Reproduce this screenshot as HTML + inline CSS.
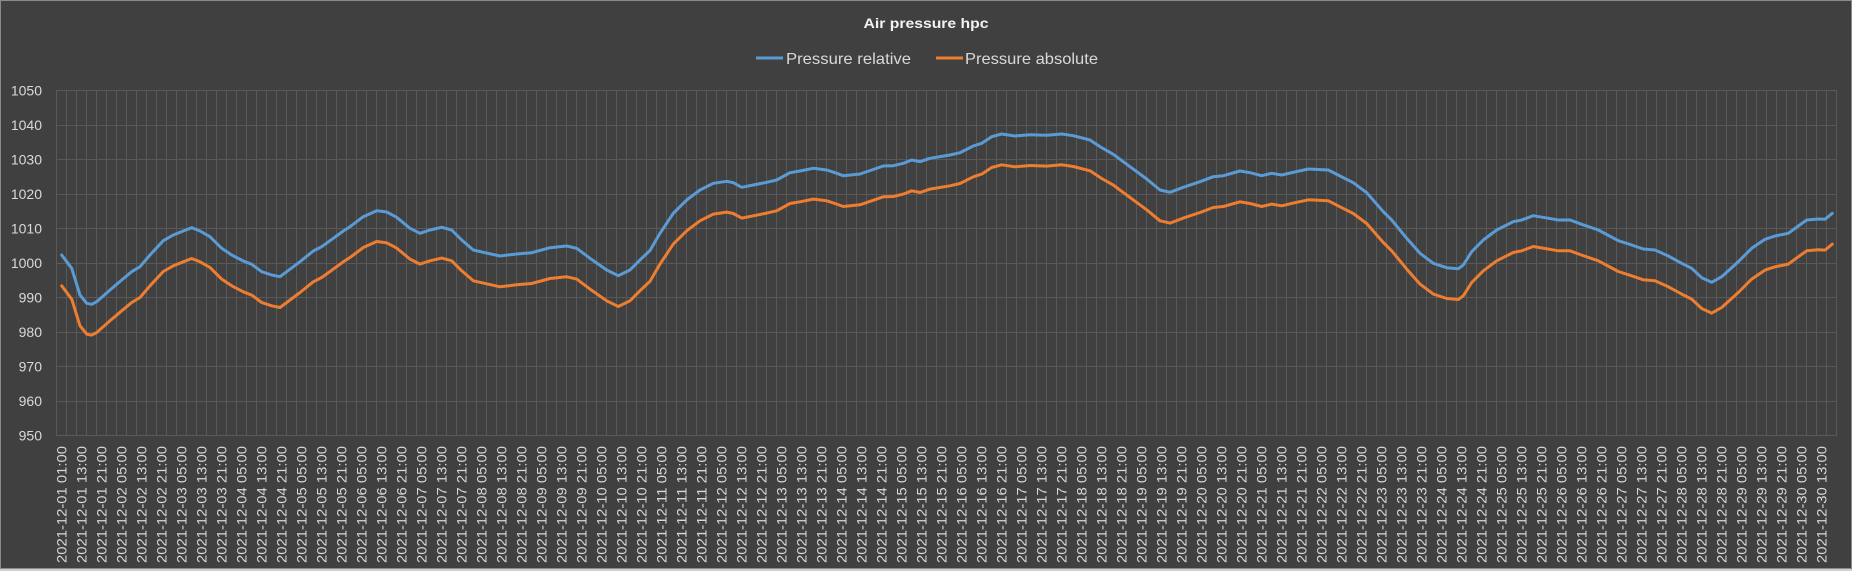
<!DOCTYPE html>
<html>
<head>
<meta charset="utf-8">
<style>
html,body{margin:0;padding:0;background:#d0d0d0;}
body{width:1852px;height:571px;overflow:hidden;}
svg{display:block;}
.yl{font-family:"Liberation Sans",sans-serif;font-size:14px;fill:#d9d9d9;}
.xl{font-family:"Liberation Sans",sans-serif;font-size:14px;fill:#d9d9d9;}
</style>
</head>
<body>
<svg width="1852" height="571" viewBox="0 0 1852 571" xmlns="http://www.w3.org/2000/svg">
<defs>
<pattern id="vg" x="56" y="0" width="10" height="571" patternUnits="userSpaceOnUse">
<rect x="0" y="0" width="1" height="571" fill="#595959"/>
</pattern>
</defs>
<rect x="0" y="0" width="1852" height="571" fill="#d0d0d0"/>
<rect x="0.5" y="0.5" width="1851" height="568" fill="#404040" stroke="#8a8a8a" stroke-width="1"/>

<!-- vertical gridlines -->
<rect x="56" y="90" width="1781" height="346" fill="url(#vg)"/>
<!-- horizontal gridlines -->
<g stroke="#595959" stroke-width="1">
<line x1="56" x2="1837" y1="90.5" y2="90.5"/>
<line x1="56" x2="1837" y1="125.5" y2="125.5"/>
<line x1="56" x2="1837" y1="159.5" y2="159.5"/>
<line x1="56" x2="1837" y1="194.5" y2="194.5"/>
<line x1="56" x2="1837" y1="228.5" y2="228.5"/>
<line x1="56" x2="1837" y1="263.5" y2="263.5"/>
<line x1="56" x2="1837" y1="297.5" y2="297.5"/>
<line x1="56" x2="1837" y1="332.5" y2="332.5"/>
<line x1="56" x2="1837" y1="366.5" y2="366.5"/>
<line x1="56" x2="1837" y1="401.5" y2="401.5"/>
<line x1="56" x2="1837" y1="435.5" y2="435.5"/>
</g>

<!-- y labels -->
<g class="yl" text-anchor="end">
<text x="42" y="95.5">1050</text>
<text x="42" y="130">1040</text>
<text x="42" y="164.5">1030</text>
<text x="42" y="199">1020</text>
<text x="42" y="233.5">1010</text>
<text x="42" y="268">1000</text>
<text x="42" y="302.5">990</text>
<text x="42" y="337">980</text>
<text x="42" y="371.5">970</text>
<text x="42" y="406">960</text>
<text x="42" y="440.5">950</text>
</g>

<!-- title -->
<text x="926" y="28" text-anchor="middle" font-family="'Liberation Sans',sans-serif" font-weight="bold" font-size="14" fill="#f2f2f2" textLength="125" lengthAdjust="spacingAndGlyphs">Air pressure hpc</text>

<!-- legend -->
<line x1="756" x2="783" y1="58" y2="58" stroke="#5b9bd5" stroke-width="3"/>
<text x="786" y="64" font-family="'Liberation Sans',sans-serif" font-size="16" fill="#d9d9d9" textLength="125" lengthAdjust="spacingAndGlyphs">Pressure relative</text>
<line x1="936" x2="963" y1="58" y2="58" stroke="#ed7d31" stroke-width="3"/>
<text x="965" y="64" font-family="'Liberation Sans',sans-serif" font-size="16" fill="#d9d9d9" textLength="133" lengthAdjust="spacingAndGlyphs">Pressure absolute</text>

<!-- series -->
<polyline id="blue" fill="none" stroke="#5b9bd5" stroke-width="3" stroke-linejoin="round" stroke-linecap="round" points="61.7,255 71.7,268.3 80,295 86.7,303.3 91.7,304.3 96.7,301.7 110,290 121.7,280 131.7,271.7 140,266.7 150,255 163.3,240.7 173.3,235 183.3,231 191.7,227.7 200,231 210,236.7 221.7,248.3 231.7,255 243.3,261 251.7,264.3 261.7,271.7 271.7,275 280,276.7 286.7,271.7 300,261.7 313.3,251 321.7,246.7 333.3,238.3 343.3,231 350,226.7 363.3,216.7 376.7,210.7 386.7,212 396.7,217.3 410,228.3 420,233.3 430,230 441.7,227.3 451.7,230 461.7,240 473.3,250 483.3,252.3 500,256 516.7,254 531.7,252.7 550,247.7 566.7,246 576.7,248.3 590,258.3 606.7,270 618.3,275.7 630,270 641.7,258.3 650,250.5 660,233.3 673.3,213.3 686.7,200 700,190 713.3,183.3 726.7,181.3 733.3,182.7 741.7,187.3 753.3,185 766.7,182.3 776.7,180 790,172.7 800,171 813.3,168.3 826.7,170 835,172.7 843.3,175.7 860,174 871.7,170 883.3,166 893.3,165.7 903.3,163.3 911.7,160 920,161.7 930,158.3 950,155 960,152.7 973.3,146 981.7,143.3 991.7,136.7 1001.7,134 1015,136 1030,134.7 1046.7,135.3 1061.7,134 1073.3,135.7 1090,140 1101.7,147.7 1113.3,154.3 1130,166.7 1146.7,179 1160,190 1170,192.3 1183.3,187.3 1200,181.7 1213.3,176.7 1223.3,175.7 1240,171 1250,172.7 1261.7,175.7 1271.7,173.3 1281.7,175 1293.3,172.3 1308.3,169 1328.3,170 1340,176 1353.3,182.7 1366.7,192.7 1383.3,211.7 1391.7,220 1406.7,238.3 1420,253.3 1433.3,263.3 1446.7,267.7 1458.3,268.7 1463.3,265 1471.7,251.7 1483.3,240 1496.7,230 1513.3,221.7 1521.7,220 1533.3,215.7 1545,217.7 1558.3,220 1570,220 1581.7,224.3 1598.3,230 1618.3,240.7 1631.7,245 1643.3,249 1655,250 1668.3,256 1681.7,263.3 1691.7,268.3 1701.7,277.7 1711.7,282.3 1721.7,276.7 1738.3,261.7 1751.7,248.3 1765,239.3 1775,236 1788.3,233.3 1798.3,226 1806.7,220 1818.3,219 1825,219.3 1832.3,213.3"/>
<polyline transform="translate(0,30.8)" fill="none" stroke="#ed7d31" stroke-width="3" stroke-linejoin="round" stroke-linecap="round" points="61.7,255 71.7,268.3 80,295 86.7,303.3 91.7,304.3 96.7,301.7 110,290 121.7,280 131.7,271.7 140,266.7 150,255 163.3,240.7 173.3,235 183.3,231 191.7,227.7 200,231 210,236.7 221.7,248.3 231.7,255 243.3,261 251.7,264.3 261.7,271.7 271.7,275 280,276.7 286.7,271.7 300,261.7 313.3,251 321.7,246.7 333.3,238.3 343.3,231 350,226.7 363.3,216.7 376.7,210.7 386.7,212 396.7,217.3 410,228.3 420,233.3 430,230 441.7,227.3 451.7,230 461.7,240 473.3,250 483.3,252.3 500,256 516.7,254 531.7,252.7 550,247.7 566.7,246 576.7,248.3 590,258.3 606.7,270 618.3,275.7 630,270 641.7,258.3 650,250.5 660,233.3 673.3,213.3 686.7,200 700,190 713.3,183.3 726.7,181.3 733.3,182.7 741.7,187.3 753.3,185 766.7,182.3 776.7,180 790,172.7 800,171 813.3,168.3 826.7,170 835,172.7 843.3,175.7 860,174 871.7,170 883.3,166 893.3,165.7 903.3,163.3 911.7,160 920,161.7 930,158.3 950,155 960,152.7 973.3,146 981.7,143.3 991.7,136.7 1001.7,134 1015,136 1030,134.7 1046.7,135.3 1061.7,134 1073.3,135.7 1090,140 1101.7,147.7 1113.3,154.3 1130,166.7 1146.7,179 1160,190 1170,192.3 1183.3,187.3 1200,181.7 1213.3,176.7 1223.3,175.7 1240,171 1250,172.7 1261.7,175.7 1271.7,173.3 1281.7,175 1293.3,172.3 1308.3,169 1328.3,170 1340,176 1353.3,182.7 1366.7,192.7 1383.3,211.7 1391.7,220 1406.7,238.3 1420,253.3 1433.3,263.3 1446.7,267.7 1458.3,268.7 1463.3,265 1471.7,251.7 1483.3,240 1496.7,230 1513.3,221.7 1521.7,220 1533.3,215.7 1545,217.7 1558.3,220 1570,220 1581.7,224.3 1598.3,230 1618.3,240.7 1631.7,245 1643.3,249 1655,250 1668.3,256 1681.7,263.3 1691.7,268.3 1701.7,277.7 1711.7,282.3 1721.7,276.7 1738.3,261.7 1751.7,248.3 1765,239.3 1775,236 1788.3,233.3 1798.3,226 1806.7,220 1818.3,219 1825,219.3 1832.3,213.3"/>

<!-- x labels -->
<g class="xl" text-anchor="end" dominant-baseline="central">
<text transform="translate(61.5,446) rotate(-90)" textLength="117" lengthAdjust="spacingAndGlyphs">2021-12-01 01:00</text>
<text transform="translate(81.5,446) rotate(-90)" textLength="117" lengthAdjust="spacingAndGlyphs">2021-12-01 13:00</text>
<text transform="translate(101.5,446) rotate(-90)" textLength="117" lengthAdjust="spacingAndGlyphs">2021-12-01 21:00</text>
<text transform="translate(121.5,446) rotate(-90)" textLength="117" lengthAdjust="spacingAndGlyphs">2021-12-02 05:00</text>
<text transform="translate(141.5,446) rotate(-90)" textLength="117" lengthAdjust="spacingAndGlyphs">2021-12-02 13:00</text>
<text transform="translate(161.5,446) rotate(-90)" textLength="117" lengthAdjust="spacingAndGlyphs">2021-12-02 21:00</text>
<text transform="translate(181.5,446) rotate(-90)" textLength="117" lengthAdjust="spacingAndGlyphs">2021-12-03 05:00</text>
<text transform="translate(201.5,446) rotate(-90)" textLength="117" lengthAdjust="spacingAndGlyphs">2021-12-03 13:00</text>
<text transform="translate(221.5,446) rotate(-90)" textLength="117" lengthAdjust="spacingAndGlyphs">2021-12-03 21:00</text>
<text transform="translate(241.5,446) rotate(-90)" textLength="117" lengthAdjust="spacingAndGlyphs">2021-12-04 05:00</text>
<text transform="translate(261.5,446) rotate(-90)" textLength="117" lengthAdjust="spacingAndGlyphs">2021-12-04 13:00</text>
<text transform="translate(281.5,446) rotate(-90)" textLength="117" lengthAdjust="spacingAndGlyphs">2021-12-04 21:00</text>
<text transform="translate(301.5,446) rotate(-90)" textLength="117" lengthAdjust="spacingAndGlyphs">2021-12-05 05:00</text>
<text transform="translate(321.5,446) rotate(-90)" textLength="117" lengthAdjust="spacingAndGlyphs">2021-12-05 13:00</text>
<text transform="translate(341.5,446) rotate(-90)" textLength="117" lengthAdjust="spacingAndGlyphs">2021-12-05 21:00</text>
<text transform="translate(361.5,446) rotate(-90)" textLength="117" lengthAdjust="spacingAndGlyphs">2021-12-06 05:00</text>
<text transform="translate(381.5,446) rotate(-90)" textLength="117" lengthAdjust="spacingAndGlyphs">2021-12-06 13:00</text>
<text transform="translate(401.5,446) rotate(-90)" textLength="117" lengthAdjust="spacingAndGlyphs">2021-12-06 21:00</text>
<text transform="translate(421.5,446) rotate(-90)" textLength="117" lengthAdjust="spacingAndGlyphs">2021-12-07 05:00</text>
<text transform="translate(441.5,446) rotate(-90)" textLength="117" lengthAdjust="spacingAndGlyphs">2021-12-07 13:00</text>
<text transform="translate(461.5,446) rotate(-90)" textLength="117" lengthAdjust="spacingAndGlyphs">2021-12-07 21:00</text>
<text transform="translate(481.5,446) rotate(-90)" textLength="117" lengthAdjust="spacingAndGlyphs">2021-12-08 05:00</text>
<text transform="translate(501.5,446) rotate(-90)" textLength="117" lengthAdjust="spacingAndGlyphs">2021-12-08 13:00</text>
<text transform="translate(521.5,446) rotate(-90)" textLength="117" lengthAdjust="spacingAndGlyphs">2021-12-08 21:00</text>
<text transform="translate(541.5,446) rotate(-90)" textLength="117" lengthAdjust="spacingAndGlyphs">2021-12-09 05:00</text>
<text transform="translate(561.5,446) rotate(-90)" textLength="117" lengthAdjust="spacingAndGlyphs">2021-12-09 13:00</text>
<text transform="translate(581.5,446) rotate(-90)" textLength="117" lengthAdjust="spacingAndGlyphs">2021-12-09 21:00</text>
<text transform="translate(601.5,446) rotate(-90)" textLength="117" lengthAdjust="spacingAndGlyphs">2021-12-10 05:00</text>
<text transform="translate(621.5,446) rotate(-90)" textLength="117" lengthAdjust="spacingAndGlyphs">2021-12-10 13:00</text>
<text transform="translate(641.5,446) rotate(-90)" textLength="117" lengthAdjust="spacingAndGlyphs">2021-12-10 21:00</text>
<text transform="translate(661.5,446) rotate(-90)" textLength="117" lengthAdjust="spacingAndGlyphs">2021-12-11 05:00</text>
<text transform="translate(681.5,446) rotate(-90)" textLength="117" lengthAdjust="spacingAndGlyphs">2021-12-11 13:00</text>
<text transform="translate(701.5,446) rotate(-90)" textLength="117" lengthAdjust="spacingAndGlyphs">2021-12-11 21:00</text>
<text transform="translate(721.5,446) rotate(-90)" textLength="117" lengthAdjust="spacingAndGlyphs">2021-12-12 05:00</text>
<text transform="translate(741.5,446) rotate(-90)" textLength="117" lengthAdjust="spacingAndGlyphs">2021-12-12 13:00</text>
<text transform="translate(761.5,446) rotate(-90)" textLength="117" lengthAdjust="spacingAndGlyphs">2021-12-12 21:00</text>
<text transform="translate(781.5,446) rotate(-90)" textLength="117" lengthAdjust="spacingAndGlyphs">2021-12-13 05:00</text>
<text transform="translate(801.5,446) rotate(-90)" textLength="117" lengthAdjust="spacingAndGlyphs">2021-12-13 13:00</text>
<text transform="translate(821.5,446) rotate(-90)" textLength="117" lengthAdjust="spacingAndGlyphs">2021-12-13 21:00</text>
<text transform="translate(841.5,446) rotate(-90)" textLength="117" lengthAdjust="spacingAndGlyphs">2021-12-14 05:00</text>
<text transform="translate(861.5,446) rotate(-90)" textLength="117" lengthAdjust="spacingAndGlyphs">2021-12-14 13:00</text>
<text transform="translate(881.5,446) rotate(-90)" textLength="117" lengthAdjust="spacingAndGlyphs">2021-12-14 21:00</text>
<text transform="translate(901.5,446) rotate(-90)" textLength="117" lengthAdjust="spacingAndGlyphs">2021-12-15 05:00</text>
<text transform="translate(921.5,446) rotate(-90)" textLength="117" lengthAdjust="spacingAndGlyphs">2021-12-15 13:00</text>
<text transform="translate(941.5,446) rotate(-90)" textLength="117" lengthAdjust="spacingAndGlyphs">2021-12-15 21:00</text>
<text transform="translate(961.5,446) rotate(-90)" textLength="117" lengthAdjust="spacingAndGlyphs">2021-12-16 05:00</text>
<text transform="translate(981.5,446) rotate(-90)" textLength="117" lengthAdjust="spacingAndGlyphs">2021-12-16 13:00</text>
<text transform="translate(1001.5,446) rotate(-90)" textLength="117" lengthAdjust="spacingAndGlyphs">2021-12-16 21:00</text>
<text transform="translate(1021.5,446) rotate(-90)" textLength="117" lengthAdjust="spacingAndGlyphs">2021-12-17 05:00</text>
<text transform="translate(1041.5,446) rotate(-90)" textLength="117" lengthAdjust="spacingAndGlyphs">2021-12-17 13:00</text>
<text transform="translate(1061.5,446) rotate(-90)" textLength="117" lengthAdjust="spacingAndGlyphs">2021-12-17 21:00</text>
<text transform="translate(1081.5,446) rotate(-90)" textLength="117" lengthAdjust="spacingAndGlyphs">2021-12-18 05:00</text>
<text transform="translate(1101.5,446) rotate(-90)" textLength="117" lengthAdjust="spacingAndGlyphs">2021-12-18 13:00</text>
<text transform="translate(1121.5,446) rotate(-90)" textLength="117" lengthAdjust="spacingAndGlyphs">2021-12-18 21:00</text>
<text transform="translate(1141.5,446) rotate(-90)" textLength="117" lengthAdjust="spacingAndGlyphs">2021-12-19 05:00</text>
<text transform="translate(1161.5,446) rotate(-90)" textLength="117" lengthAdjust="spacingAndGlyphs">2021-12-19 13:00</text>
<text transform="translate(1181.5,446) rotate(-90)" textLength="117" lengthAdjust="spacingAndGlyphs">2021-12-19 21:00</text>
<text transform="translate(1201.5,446) rotate(-90)" textLength="117" lengthAdjust="spacingAndGlyphs">2021-12-20 05:00</text>
<text transform="translate(1221.5,446) rotate(-90)" textLength="117" lengthAdjust="spacingAndGlyphs">2021-12-20 13:00</text>
<text transform="translate(1241.5,446) rotate(-90)" textLength="117" lengthAdjust="spacingAndGlyphs">2021-12-20 21:00</text>
<text transform="translate(1261.5,446) rotate(-90)" textLength="117" lengthAdjust="spacingAndGlyphs">2021-12-21 05:00</text>
<text transform="translate(1281.5,446) rotate(-90)" textLength="117" lengthAdjust="spacingAndGlyphs">2021-12-21 13:00</text>
<text transform="translate(1301.5,446) rotate(-90)" textLength="117" lengthAdjust="spacingAndGlyphs">2021-12-21 21:00</text>
<text transform="translate(1321.5,446) rotate(-90)" textLength="117" lengthAdjust="spacingAndGlyphs">2021-12-22 05:00</text>
<text transform="translate(1341.5,446) rotate(-90)" textLength="117" lengthAdjust="spacingAndGlyphs">2021-12-22 13:00</text>
<text transform="translate(1361.5,446) rotate(-90)" textLength="117" lengthAdjust="spacingAndGlyphs">2021-12-22 21:00</text>
<text transform="translate(1381.5,446) rotate(-90)" textLength="117" lengthAdjust="spacingAndGlyphs">2021-12-23 05:00</text>
<text transform="translate(1401.5,446) rotate(-90)" textLength="117" lengthAdjust="spacingAndGlyphs">2021-12-23 13:00</text>
<text transform="translate(1421.5,446) rotate(-90)" textLength="117" lengthAdjust="spacingAndGlyphs">2021-12-23 21:00</text>
<text transform="translate(1441.5,446) rotate(-90)" textLength="117" lengthAdjust="spacingAndGlyphs">2021-12-24 05:00</text>
<text transform="translate(1461.5,446) rotate(-90)" textLength="117" lengthAdjust="spacingAndGlyphs">2021-12-24 13:00</text>
<text transform="translate(1481.5,446) rotate(-90)" textLength="117" lengthAdjust="spacingAndGlyphs">2021-12-24 21:00</text>
<text transform="translate(1501.5,446) rotate(-90)" textLength="117" lengthAdjust="spacingAndGlyphs">2021-12-25 05:00</text>
<text transform="translate(1521.5,446) rotate(-90)" textLength="117" lengthAdjust="spacingAndGlyphs">2021-12-25 13:00</text>
<text transform="translate(1541.5,446) rotate(-90)" textLength="117" lengthAdjust="spacingAndGlyphs">2021-12-25 21:00</text>
<text transform="translate(1561.5,446) rotate(-90)" textLength="117" lengthAdjust="spacingAndGlyphs">2021-12-26 05:00</text>
<text transform="translate(1581.5,446) rotate(-90)" textLength="117" lengthAdjust="spacingAndGlyphs">2021-12-26 13:00</text>
<text transform="translate(1601.5,446) rotate(-90)" textLength="117" lengthAdjust="spacingAndGlyphs">2021-12-26 21:00</text>
<text transform="translate(1621.5,446) rotate(-90)" textLength="117" lengthAdjust="spacingAndGlyphs">2021-12-27 05:00</text>
<text transform="translate(1641.5,446) rotate(-90)" textLength="117" lengthAdjust="spacingAndGlyphs">2021-12-27 13:00</text>
<text transform="translate(1661.5,446) rotate(-90)" textLength="117" lengthAdjust="spacingAndGlyphs">2021-12-27 21:00</text>
<text transform="translate(1681.5,446) rotate(-90)" textLength="117" lengthAdjust="spacingAndGlyphs">2021-12-28 05:00</text>
<text transform="translate(1701.5,446) rotate(-90)" textLength="117" lengthAdjust="spacingAndGlyphs">2021-12-28 13:00</text>
<text transform="translate(1721.5,446) rotate(-90)" textLength="117" lengthAdjust="spacingAndGlyphs">2021-12-28 21:00</text>
<text transform="translate(1741.5,446) rotate(-90)" textLength="117" lengthAdjust="spacingAndGlyphs">2021-12-29 05:00</text>
<text transform="translate(1761.5,446) rotate(-90)" textLength="117" lengthAdjust="spacingAndGlyphs">2021-12-29 13:00</text>
<text transform="translate(1781.5,446) rotate(-90)" textLength="117" lengthAdjust="spacingAndGlyphs">2021-12-29 21:00</text>
<text transform="translate(1801.5,446) rotate(-90)" textLength="117" lengthAdjust="spacingAndGlyphs">2021-12-30 05:00</text>
<text transform="translate(1821.5,446) rotate(-90)" textLength="117" lengthAdjust="spacingAndGlyphs">2021-12-30 13:00</text>
</g>
</svg>
</body>
</html>
